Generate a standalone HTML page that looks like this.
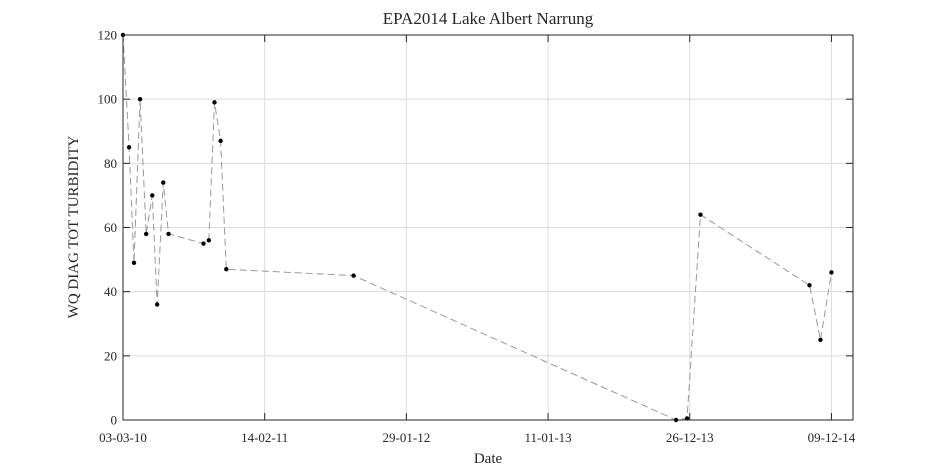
<!DOCTYPE html>
<html><head><meta charset="utf-8"><style>
body{margin:0;background:#fff;}
svg{display:block;font-family:"Liberation Serif",serif;}
</style></head><body>
<svg id="chart" width="945" height="472">
<rect x="0" y="0" width="945" height="472" fill="#fff"/>
<g id="grid"></g>
<g id="series"></g>
<rect x="123" y="35" width="730" height="385" fill="none" stroke="#262626" stroke-width="1"/>
<g id="ticks"></g>
<text x="488" y="24" text-anchor="middle" font-size="17" fill="#262626">EPA2014 Lake Albert Narrung</text>
<text x="488" y="463" text-anchor="middle" font-size="15" fill="#262626">Date</text>
<text transform="translate(78,227) rotate(-90)" text-anchor="middle" font-size="15" fill="#262626">WQ DIAG TOT TURBIDITY</text>
</svg>
<script>
const dayOffsets = [0, 15, 27, 42, 57, 72, 84, 99, 112, 198, 211, 225, 240, 254, 567, 1360, 1387, 1420, 1688, 1715, 1742];
const turbidity = [120, 85, 49, 100, 58, 70, 36, 74, 58, 55, 56, 99, 87, 47, 45, 0, 0.5, 64, 42, 25, 46];
const xTickDays = [0, 348.4, 696.8, 1045.2, 1393.6, 1742];
const xTickLabels = ["03-03-10", "14-02-11", "29-01-12", "11-01-13", "26-12-13", "09-12-14"];
const yTicks = [0, 20, 40, 60, 80, 100, 120];

const X0 = 123, X1 = 853, Y0 = 420, Y1 = 35;
const dayMax = 1795, yMax = 120;
const xs = d => X0 + d / dayMax * (X1 - X0);
const ys = v => Y0 - v / yMax * (Y0 - Y1);
const NS = "http://www.w3.org/2000/svg";
const grid = document.getElementById('grid');
const ticks = document.getElementById('ticks');
const series = document.getElementById('series');
function mk(tag, attrs, parent){const e=document.createElementNS(NS,tag);for(const k in attrs)e.setAttribute(k,attrs[k]);parent.appendChild(e);return e;}

xTickDays.forEach((d,i)=>{
  const x = xs(d);
  const g = mk('line',{x1:x,x2:x,y1:Y1,y2:Y0,stroke:'#dcdcdc','stroke-width':1},grid);
  
  
  const t1 = mk('line',{x1:x,x2:x,y1:Y0,y2:Y0-7,stroke:'#262626'},ticks);
  
  
  const t2 = mk('line',{x1:x,x2:x,y1:Y1,y2:Y1+7,stroke:'#262626'},ticks);
  
  
  const l = mk('text',{x:x,y:Y0+22,'text-anchor':'middle','font-size':13,fill:'#262626'},ticks);
  l.textContent = xTickLabels[i];
  
  
});
yTicks.forEach(v=>{
  const y = ys(v);
  const g = mk('line',{x1:X0,x2:X1,y1:y,y2:y,stroke:'#dcdcdc','stroke-width':1},grid);
  
  
  const t1 = mk('line',{x1:X0,x2:X0+7,y1:y,y2:y,stroke:'#262626'},ticks);
  
  
  const t2 = mk('line',{x1:X1,x2:X1-7,y1:y,y2:y,stroke:'#262626'},ticks);
  
  
  const l = mk('text',{x:X0-6,y:y+4.5,'text-anchor':'end','font-size':13,fill:'#262626'},ticks);
  l.textContent = v;
  
  
});
const pts = dayOffsets.map((d,i)=>xs(d)+','+ys(turbidity[i])).join(' ');
const line = mk('polyline',{points:pts,fill:'none',stroke:'#999','stroke-width':1,'stroke-dasharray':'7,4'},series);


dayOffsets.forEach((d,i)=>{
  const c = mk('circle',{cx:xs(d),cy:ys(turbidity[i]),r:2.2,fill:'#000'},series);
  
  
});
</script>
</body></html>
